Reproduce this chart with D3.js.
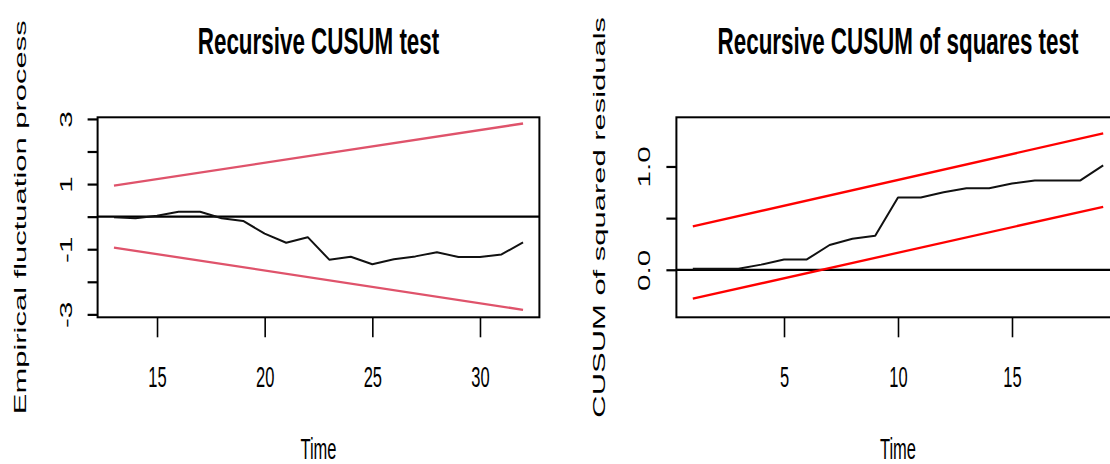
<!DOCTYPE html>
<html>
<head>
<meta charset="utf-8">
<script src="https://cdn.jsdelivr.net/npm/d3@7"></script>
<style>
  body { margin: 0; background: #fff; }
  svg text { font-family: "Liberation Sans", Arial, sans-serif; fill: #000; }
</style>
</head>
<body>
<script>
// left panel: recursive CUSUM
var cusumTime = [13, 14, 15, 16, 17, 18, 19, 20, 21, 22, 23, 24, 25, 26, 27, 28, 29, 30, 31, 32];
var cusumProcess = [-0.02, -0.05, 0.03, 0.15, 0.15, -0.05, -0.13, -0.52, -0.80, -0.63, -1.32, -1.23, -1.46, -1.31, -1.22, -1.09, -1.24, -1.24, -1.16, -0.79];
var cusumBoundTime = [13, 32];
var cusumUpper = [0.95, 2.86];
var cusumLower = [-0.95, -2.86];
var cusumYTicks = [-3, -2, -1, 0, 1, 2, 3];
var cusumYLabels = [-3, -1, 1, 3];
var cusumXTicks = [15, 20, 25, 30];

// right panel: recursive CUSUM of squares
var sqTime = [1, 2, 3, 4, 5, 6, 7, 8, 9, 10, 11, 12, 13, 14, 15, 16, 17, 18, 19];
var sqProcess = [0.01, 0.01, 0.01, 0.05, 0.10, 0.10, 0.24, 0.30, 0.33, 0.70, 0.70, 0.75, 0.79, 0.79, 0.835, 0.865, 0.865, 0.865, 1.01];
var sqBoundTime = [1, 19];
var sqUpper = [0.42, 1.32];
var sqLower = [-0.28, 0.61];
var sqYTicks = [0, 0.5, 1];
var sqYLabels = [0, 1];
var sqXTicks = [5, 10, 15];

var W = 1110, H = 464;
var stretch = 1.8;   // the picture is stretched vertically
var boxTop = 117.3, boxBottom = 317.3;

var svg = d3.select('body').append('svg').attr('width', W).attr('height', H);

function panel(o) {
    var x = d3.scaleLinear().domain(o.xDomain).range([o.left, o.right]);
    var y = d3.scaleLinear().domain(o.yDomain).range([boxBottom, boxTop]);
    var cx = (o.left + o.right) / 2;
    var g = svg.append('g');
    var line = d3.line().x(function (d) { return x(d[0]); }).y(function (d) { return y(d[1]); });

    // zero line
    g.append('line')
        .attr('x1', o.left).attr('x2', o.right)
        .attr('y1', y(0)).attr('y2', y(0))
        .attr('stroke', '#000').attr('stroke-width', 2.2);

    // boundaries
    [o.upper, o.lower].forEach(function (b) {
        g.append('path')
            .datum(d3.zip(o.boundTime, b))
            .attr('d', line)
            .attr('fill', 'none')
            .attr('stroke', o.boundColor)
            .attr('stroke-width', 2.3);
    });

    // process
    g.append('path')
        .datum(d3.zip(o.time, o.process))
        .attr('d', line)
        .attr('fill', 'none')
        .attr('stroke', '#111')
        .attr('stroke-width', 2)
        .attr('stroke-linejoin', 'round');

    // box
    g.append('rect')
        .attr('x', o.left).attr('y', boxTop)
        .attr('width', o.right - o.left).attr('height', boxBottom - boxTop)
        .attr('fill', 'none').attr('stroke', '#000').attr('stroke-width', 2);

    // y axis
    var ya = g.append('g')
        .attr('transform', 'translate(' + o.left + ',0)')
        .call(d3.axisLeft(y).tickValues(o.yTicks).tickSize(10).tickSizeOuter(0)
            .tickFormat(function (d) { return o.yLabels.indexOf(d) >= 0 ? o.yFmt(d) : ''; }));
    ya.select('.domain').remove();
    ya.selectAll('line').attr('stroke', '#000').attr('stroke-width', 2.2);
    ya.selectAll('text')
        .attr('x', 0).attr('dy', 0)
        .attr('font-size', 16.5)
        .attr('text-anchor', 'middle')
        .attr('transform', 'translate(' + (o.yLabelX - o.left) + ',0) scale(1,' + stretch + ') rotate(-90)');

    // x axis
    var xa = g.append('g')
        .attr('transform', 'translate(0,' + boxBottom + ')')
        .call(d3.axisBottom(x).tickValues(o.xTicks).tickSize(20).tickSizeOuter(0)
            .tickFormat(function (d) { return String(d); }));
    xa.select('.domain').remove();
    xa.selectAll('line').attr('stroke', '#000').attr('stroke-width', 1.6);
    xa.selectAll('text')
        .attr('y', 0).attr('dy', 0)
        .attr('font-size', 16.5)
        .attr('text-anchor', 'middle')
        .attr('transform', 'translate(0,' + (387 - boxBottom) + ') scale(1,' + stretch + ')');

    // title
    g.append('text')
        .attr('transform', 'translate(' + cx + ',54) scale(1,1.65)')
        .attr('text-anchor', 'middle')
        .attr('font-size', 22.4)
        .attr('font-weight', 'bold')
        .text(o.title);

    // x label
    g.append('text')
        .attr('transform', 'translate(' + cx + ',459) scale(1,' + stretch + ')')
        .attr('text-anchor', 'middle')
        .attr('font-size', 16.5)
        .text('Time');

    // y label
    g.append('text')
        .attr('transform', 'translate(' + o.ylabX + ',' + ((boxTop + boxBottom) / 2) + ') scale(1,' + stretch + ') rotate(-90)')
        .attr('text-anchor', 'middle')
        .attr('font-size', 17.2)
        .text(o.ylab);
}

panel({
    left: 97.6, right: 539.4,
    xDomain: [12.24, 32.76], yDomain: [-3.09, 3.05],
    time: cusumTime, process: cusumProcess,
    boundTime: cusumBoundTime, upper: cusumUpper, lower: cusumLower,
    boundColor: '#DF536B',
    yTicks: cusumYTicks, yLabels: cusumYLabels, xTicks: cusumXTicks,
    yFmt: function (d) { return String(d); },
    yLabelX: 72, ylabX: 26,
    title: 'Recursive CUSUM test',
    ylab: 'Empirical fluctuation process'
});

panel({
    left: 676.4, right: 1119.6,
    xDomain: [0.28, 19.72], yDomain: [-0.46, 1.476],
    time: sqTime, process: sqProcess,
    boundTime: sqBoundTime, upper: sqUpper, lower: sqLower,
    boundColor: '#FF0000',
    yTicks: sqYTicks, yLabels: sqYLabels, xTicks: sqXTicks,
    yFmt: function (d) { return d.toFixed(1); },
    yLabelX: 650, ylabX: 605,
    title: 'Recursive CUSUM of squares test',
    ylab: 'CUSUM of squared residuals'
});
</script>
</body>
</html>
